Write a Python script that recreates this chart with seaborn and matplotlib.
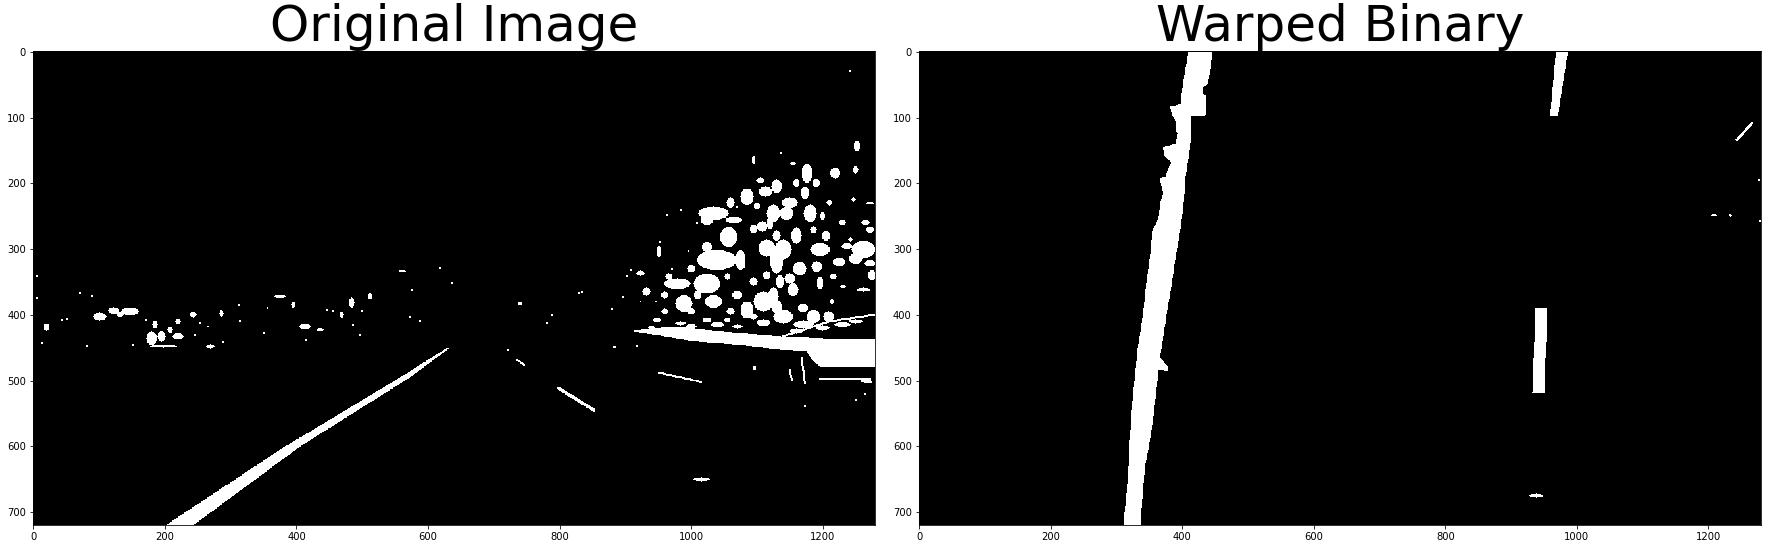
import matplotlib
matplotlib.use('Agg')
import matplotlib.pyplot as plt
from matplotlib.path import Path
import numpy as np
import seaborn as sns

sns.set_style('ticks', {'axes.edgecolor': 'black', 'xtick.color': 'black',
                        'ytick.color': 'black', 'text.color': 'black',
                        'axes.labelcolor': 'black'})

H, W = 720, 1280
titles = ['Original Image', 'Warped Binary']
x_ticks = [0, 200, 400, 600, 800, 1000, 1200]
y_ticks = [0, 100, 200, 300, 400, 500, 600, 700]

# ---- original (thresholded) image, shapes, image pixel coords ----
orig_lane_left = [(201, 720), (383, 600), (550, 500), (628, 451)]
orig_lane_right = [(634, 450), (570, 497), (406, 600), (243, 720)]

orig_band_top = [(914, 424), (975, 418), (1050, 426), (1136, 433), (1200, 436), (1280, 436)]
orig_band_bottom = [(1280, 479), (1196, 479), (1185, 470), (1175, 455), (1136, 453),
                    (1075, 446), (1000, 440), (960, 433), (914, 426)]

orig_hood_line = [(1140, 433), (1211, 410), (1280, 400)]

# x0, y0, x1, y1, width
orig_strokes = [(799, 512, 852, 545, 5), (736, 469, 746, 476, 3), (951, 488, 1015, 502, 3),
                (557, 334, 565, 334, 2), (1168, 466, 1173, 504, 3), (1150, 484, 1153, 499, 3),
                (1196, 497, 1272, 497, 3), (1260, 500, 1272, 502, 5), (1187, 446, 1189, 463, 3)]

# x, y, rx, ry
tree_blobs = [(1034, 246, 23, 10), (1024, 256, 10, 8), (1065, 256, 13, 5), (1085, 221, 10, 13),
              (1113, 213, 10, 8), (1125, 246, 10, 13), (1057, 282, 13, 15), (1024, 297, 8, 8),
              (1039, 317, 30, 15), (1075, 317, 8, 15), (1024, 353, 20, 15), (979, 353, 20, 8),
              (923, 337, 6, 4), (932, 365, 6, 6), (951, 304, 3, 9), (989, 383, 13, 13),
              (1034, 380, 13, 10), (1085, 393, 10, 13), (1110, 380, 15, 15), (1115, 299, 13, 13),
              (1128, 317, 8, 15), (1108, 266, 8, 8), (1095, 165, 3, 6), (1105, 196, 6, 4),
              (966, 342, 5, 5), (1055, 342, 4, 5),
              (1130, 205, 8, 10), (1145, 246, 10, 10), (1176, 185, 8, 15), (1173, 215, 6, 10),
              (1219, 185, 8, 8), (1181, 246, 10, 13), (1186, 271, 5, 5), (1140, 301, 13, 15),
              (1196, 301, 15, 10), (1262, 301, 18, 13), (1237, 296, 8, 5), (1130, 317, 10, 20),
              (1191, 327, 8, 8), (1155, 362, 8, 10), (1125, 372, 8, 13), (1196, 352, 5, 10),
              (1216, 342, 5, 4), (1214, 380, 3, 4), (1186, 403, 10, 10), (1209, 403, 8, 8),
              (1140, 403, 15, 10), (1130, 388, 8, 10), (1171, 415, 15, 6), (1272, 271, 6, 5),
              (1272, 322, 8, 5), (1252, 144, 5, 8), (1155, 170, 4, 3), (1242, 286, 3, 3),
              (1231, 357, 4, 3), (1262, 362, 10, 3), (1247, 225, 3, 3), (1272, 231, 5, 2),
              (1120, 261, 5, 10),
              (948, 408, 6, 3), (984, 413, 8, 3), (1024, 408, 6, 4), (1055, 408, 5, 3), (1095, 403, 6, 4),
              (1150, 230, 12, 8), (1160, 280, 8, 12), (1165, 330, 10, 10), (1150, 345, 8, 8),
              (1135, 350, 6, 10), (1170, 390, 8, 6), (1160, 425, 10, 4), (1200, 420, 10, 4),
              (1230, 415, 12, 4), (1250, 410, 10, 3), (1225, 320, 10, 6), (1250, 315, 10, 8),
              (1275, 340, 6, 8), (1205, 280, 6, 8), (1190, 200, 6, 6), (1200, 250, 4, 6),
              (1230, 260, 5, 4), (1265, 260, 6, 4), (1250, 180, 4, 6), (1210, 230, 4, 4),
              (1160, 200, 5, 6),
              (1000, 418, 8, 4), (1040, 415, 10, 4), (1070, 418, 8, 3), (1110, 412, 10, 5),
              (1000, 395, 6, 5), (1060, 395, 6, 5), (960, 395, 5, 4), (940, 420, 5, 3),
              (1060, 230, 6, 8), (1095, 270, 6, 6), (1095, 350, 6, 6), (1070, 370, 8, 6),
              (1000, 330, 6, 6), (1010, 370, 6, 6), (960, 370, 6, 5), (1130, 280, 6, 8),
              (1115, 340, 6, 6), (1100, 235, 5, 5)]

roadside_blobs = [(20, 419, 5, 5), (101, 403, 10, 6), (122, 394, 8, 5), (147, 395, 13, 6),
                  (132, 400, 5, 4), (185, 415, 4, 6), (180, 436, 8, 10), (195, 433, 6, 8),
                  (208, 423, 4, 5), (220, 433, 8, 5), (220, 410, 4, 4), (198, 448, 20, 2),
                  (243, 400, 5, 4), (269, 448, 6, 3), (286, 398, 3, 5), (375, 372, 8, 3),
                  (395, 385, 3, 5), (413, 418, 8, 5), (436, 423, 5, 3), (469, 400, 3, 5),
                  (484, 382, 4, 8), (512, 372, 3, 5), (740, 383, 3, 3), (1096, 481, 3, 3),
                  (1016, 650, 12, 3)]

orig_specks = [(43, 408), (51, 406), (246, 431), (289, 441), (312, 385), (356, 390), (456, 395),
               (499, 395), (486, 415), (497, 431), (573, 403), (588, 410), (636, 352), (575, 362),
               (618, 329), (5, 342), (5, 375), (71, 367), (89, 372), (13, 443), (253, 413),
               (266, 418), (314, 410), (350, 428), (415, 438), (446, 393), (172, 408), (81, 448),
               (152, 446), (996, 304), (1009, 261), (953, 289), (908, 332), (903, 342), (897, 373),
               (880, 391), (834, 365), (923, 380), (946, 380), (971, 330), (1080, 327), (1070, 236),
               (963, 249), (984, 241), (789, 401), (781, 413), (885, 449), (1136, 155), (1242, 30),
               (830, 367), (722, 454), (882, 449), (917, 447), (1173, 539), (1250, 530), (1265, 520)]

# ---- warped binary ----
warp_lane_left = [(409, 0), (404, 30), (400, 55), (397, 80), (381, 84), (384, 95), (390, 108),
                  (389, 118), (392, 125), (390, 140), (370, 146), (373, 160), (383, 168),
                  (378, 178), (374, 190), (365, 193), (368, 205), (371, 215), (366, 230),
                  (364, 250), (360, 262), (354, 272), (352, 300), (348, 330), (344, 360),
                  (341, 390), (337, 420), (332, 450), (329, 480), (327, 500), (324, 530),
                  (322, 560), (320, 590), (318, 630), (315, 670), (312, 700), (310, 720)]
warp_lane_right = [(445, 0), (443, 28), (438, 50), (431, 55), (432, 65), (437, 68), (435, 97),
                   (414, 99), (412, 140), (411, 150), (405, 190), (402, 230), (397, 271),
                   (390, 310), (384, 352), (376, 400), (371, 433), (366, 465), (377, 478),
                   (378, 486), (364, 484), (361, 510), (356, 555), (349, 600), (343, 631),
                   (339, 680), (336, 720)]
warp_dash_top = [(968, 0), (986, 0), (971, 98), (959, 98)]
warp_dash_mid = [(937, 390), (955, 390), (950, 518), (932, 518)]
warp_strokes = [(1243, 134, 1266, 109, 4)]
warp_blobs = [(938, 675, 10, 3), (1208, 249, 4, 2), (1233, 249, 2, 2)]
warp_specks = [(1276, 195), (1278, 258)]

yy, xx = np.mgrid[0:H, 0:W]
pts = np.column_stack([xx.ravel(), yy.ravel()])


def fill_poly(img, verts):
    mask = Path(verts).contains_points(pts).reshape(H, W)
    img[mask] = 1


def fill_ellipse(img, cx, cy, rx, ry):
    img[((xx - cx) / max(rx, 1)) ** 2 + ((yy - cy) / max(ry, 1)) ** 2 <= 1] = 1


def fill_stroke(img, x0, y0, x1, y1, w):
    dx, dy = x1 - x0, y1 - y0
    t = ((xx - x0) * dx + (yy - y0) * dy) / max(dx * dx + dy * dy, 1e-9)
    t = np.clip(t, 0, 1)
    d = np.hypot(xx - (x0 + t * dx), yy - (y0 + t * dy))
    img[d <= w / 2] = 1


orig = np.zeros((H, W))
fill_poly(orig, orig_lane_left + orig_lane_right)
fill_poly(orig, orig_band_top + orig_band_bottom)
for a, b in zip(orig_hood_line[:-1], orig_hood_line[1:]):
    fill_stroke(orig, a[0], a[1], b[0], b[1], 3)
for s in orig_strokes:
    fill_stroke(orig, *s)
for b in tree_blobs + roadside_blobs:
    fill_ellipse(orig, *b)
for x, y in orig_specks:
    fill_ellipse(orig, x, y, 1.6, 1.6)

warped = np.zeros((H, W))
fill_poly(warped, warp_lane_left + warp_lane_right[::-1])
fill_poly(warped, warp_dash_top)
fill_poly(warped, warp_dash_mid)
for s in warp_strokes:
    fill_stroke(warped, *s)
for b in warp_blobs:
    fill_ellipse(warped, *b)
for x, y in warp_specks:
    fill_ellipse(warped, x, y, 1.6, 1.6)

fig = plt.figure(figsize=(1771 / 72, 549 / 72), dpi=72)
ax1 = fig.add_axes([33 / 1771, 24 / 549, 842 / 1771, 473.6 / 549])
ax2 = fig.add_axes([918.7 / 1771, 24 / 549, 842 / 1771, 473.6 / 549])

for ax, img, title in zip([ax1, ax2], [orig, warped], titles):
    ax.imshow(img, cmap='gray', vmin=0, vmax=1, interpolation='nearest')
    ax.set_title(title, fontsize=50)
    ax.set_xticks(x_ticks)
    ax.set_yticks(y_ticks)
    ax.tick_params(labelsize=10, length=3.5, width=0.8)
    for sp in ax.spines.values():
        sp.set_linewidth(0.8)

fig.savefig('out.png', dpi=72)
